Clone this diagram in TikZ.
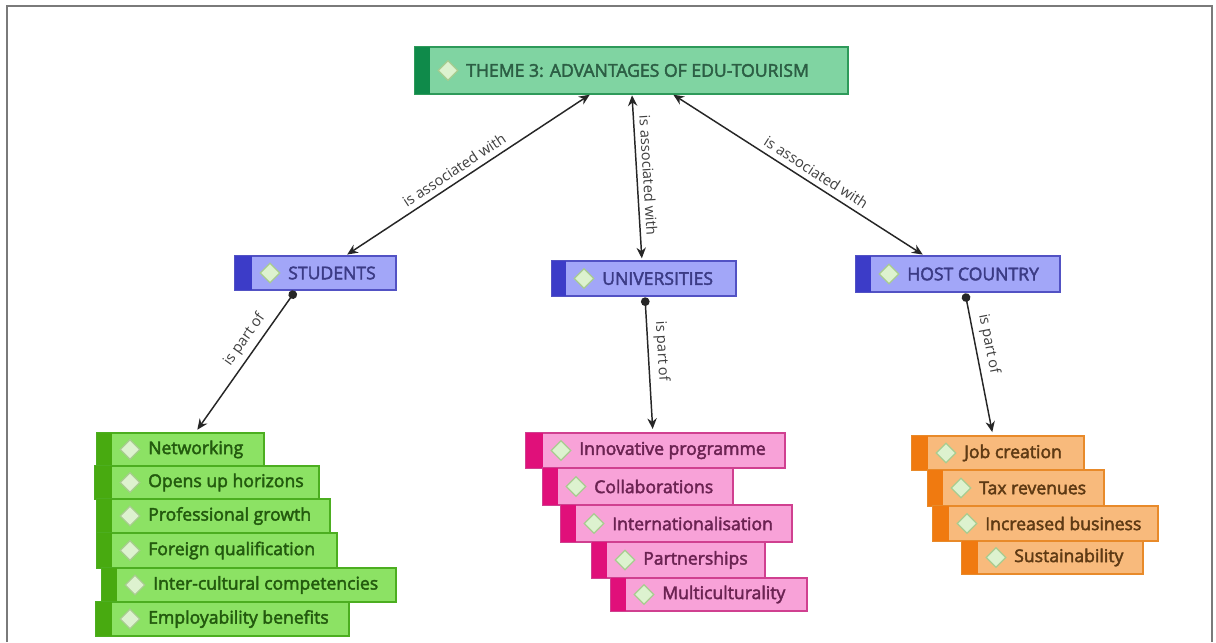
\documentclass[tikz,border=0pt]{standalone}
\usepackage{fontspec}
\setmainfont{Open Sans}
\newfontfamily\boxfont{Open Sans}[FakeBold=2.5]
\usetikzlibrary{arrows.meta,calc,shapes.geometric}

\definecolor{frameGray}{HTML}{7A7A7A}
\definecolor{thmFill}{HTML}{80D4A2}
\definecolor{thmLine}{HTML}{2E9A5A}
\definecolor{thmStrip}{HTML}{0F8A4A}
\definecolor{thmText}{HTML}{2C5E44}
\definecolor{catFill}{HTML}{A2A6F8}
\definecolor{catLine}{HTML}{5252C4}
\definecolor{catStrip}{HTML}{3C3CC8}
\definecolor{catText}{HTML}{3B3B85}
\definecolor{grnFill}{HTML}{8CE264}
\definecolor{grnLine}{HTML}{4CAE20}
\definecolor{grnStrip}{HTML}{48AA10}
\definecolor{grnText}{HTML}{235A0E}
\definecolor{pnkFill}{HTML}{F8A2D8}
\definecolor{pnkLine}{HTML}{D04090}
\definecolor{pnkStrip}{HTML}{E0107A}
\definecolor{pnkText}{HTML}{6B2352}
\definecolor{orgFill}{HTML}{F8BA7C}
\definecolor{orgLine}{HTML}{E88A2A}
\definecolor{orgStrip}{HTML}{F07A10}
\definecolor{orgText}{HTML}{5E3A14}
\definecolor{dmFill}{HTML}{DDF2CF}
\definecolor{dmLine}{HTML}{A8CC90}

\tikzset{
  itembox/.style={draw, line width=1.2pt, inner sep=0pt, outer sep=0pt},
  boxtext/.style={font=\boxfont\fontsize{13.2}{15}\selectfont, inner sep=0pt},
  thm/.style={itembox, fill=thmFill, draw=thmLine},
  thm strip/.style={fill=thmStrip},
  thm text/.style={boxtext, text=thmText},
  cat/.style={itembox, fill=catFill, draw=catLine},
  cat strip/.style={fill=catStrip},
  cat text/.style={boxtext, text=catText},
  grn/.style={itembox, fill=grnFill, draw=grnLine},
  grn strip/.style={fill=grnStrip},
  grn text/.style={boxtext, text=grnText},
  pnk/.style={itembox, fill=pnkFill, draw=pnkLine},
  pnk strip/.style={fill=pnkStrip},
  pnk text/.style={boxtext, text=pnkText},
  org/.style={itembox, fill=orgFill, draw=orgLine},
  org strip/.style={fill=orgStrip},
  org text/.style={boxtext, text=orgText},
  bullet/.style={diamond, draw=dmLine, fill=dmFill, line width=1pt,
    inner sep=0pt, minimum width=15pt, minimum height=15pt},
  assoc/.style={draw=black!85, line width=1.1pt, {Stealth[length=8pt,width=7pt]}-{Stealth[length=8pt,width=7pt]},
    shorten <=1pt, shorten >=2pt},
  partof/.style={draw=black!85, line width=1.1pt, {Circle[length=6.5pt]}-{Stealth[length=8pt,width=7pt]},
    shorten <=1pt, shorten >=3pt},
  lbl/.style={font=\fontsize{11}{13}\selectfont, text=black!75, inner sep=4pt, sloped, above},
}

% name, style, left, top, width, height, strip width, text  (all in px)
\newcommand\mapentry[8]{%
  \node[#2, anchor=north west, minimum width=#5*0.75pt, minimum height=#6*0.75pt] (#1) at (#3,#4) {};
  \fill[#2 strip] (#1.north west) rectangle ($(#1.south west)+(#7,0)$);
  \node[bullet] (#1-d) at ($(#1.west)+(#7+18,0)$) {};
  \node[#2 text, anchor=west] (#1-t) at ($(#1.west)+(#7+36,0)$) {#8};
}

\begin{document}
\begin{tikzpicture}[x=0.75pt, y=-0.75pt]
  \useasboundingbox[fill=white] (0,0) rectangle (1216,642);
  % outer frame
  \draw[frameGray, line width=2pt] (7,642) -- (7,6) -- (1212,6) -- (1212,642);

  % theme and categories
  \mapentry{theme}{thm}{415}{47}{433}{47}{15}{THEME 3: ADVANTAGES OF EDU-TOURISM}
  \mapentry{stu}{cat}{235}{256}{161}{34}{17}{STUDENTS}
  \mapentry{uni}{cat}{552}{261}{184}{35}{14}{UNIVERSITIES}
  \mapentry{host}{cat}{856}{256}{204}{36}{15}{HOST COUNTRY}

  % students
  \mapentry{g1}{grn}{97}{433}{167}{33}{15}{Networking}
  \mapentry{g2}{grn}{95}{466}{224}{33}{17}{Opens up horizons}
  \mapentry{g3}{grn}{97}{499}{233}{34}{15}{Professional growth}
  \mapentry{g4}{grn}{97}{533}{240}{35}{15}{Foreign qualification}
  \mapentry{g5}{grn}{102}{568}{294}{34}{15}{Inter-cultural competencies}
  \mapentry{g6}{grn}{96}{602}{253}{34}{16}{Employability benefits}

  % universities
  \mapentry{p1}{pnk}{526}{433}{259}{35}{17}{Innovative programme}
  \mapentry{p2}{pnk}{543}{468}{190}{37}{15}{Collaborations}
  \mapentry{p3}{pnk}{561}{505}{231}{37}{15}{Internationalisation}
  \mapentry{p4}{pnk}{592}{542}{173}{36}{15}{Partnerships}
  \mapentry{p5}{pnk}{611}{578}{196}{33}{15}{Multiculturality}

  % host country
  \mapentry{o1}{org}{912}{436}{172}{34}{16}{Job creation}
  \mapentry{o2}{org}{928}{470}{176}{36}{15}{Tax revenues}
  \mapentry{o3}{org}{933}{506}{225}{35}{16}{Increased business}
  \mapentry{o4}{org}{962}{541}{181}{33}{16}{Sustainability}

  % theme links
  \draw[assoc] ($(theme.south west)!0.406!(theme.south east)$)
    -- node[lbl, pos=0.53] (l1) {is associated with}
    ($(stu.north west)!0.683!(stu.north east)$);
  \draw[assoc] ($(theme.south west)!0.501!(theme.south east)$)
    -- node[lbl, pos=0.49] (l2) {is associated with}
    ($(uni.north west)!0.489!(uni.north east)$);
  \draw[assoc] ($(theme.south west)!0.594!(theme.south east)$)
    -- node[lbl, pos=0.545] (l3) {is associated with}
    ($(host.north west)!0.338!(host.north east)$);

  % category links
  \draw[partof] ($(stu.south west)!0.379!(stu.south east)$)
    -- node[lbl, pos=0.4] (l4) {is part of}
    ($(g1.north west)!0.587!(g1.north east)$);
  \draw[partof] ($(uni.south west)!0.505!(uni.south east)$)
    -- node[lbl, pos=0.41] (l5) {is part of}
    ($(p1.north west)!0.49!(p1.north east)$);
  \draw[partof] ($(host.south west)!0.534!(host.south east)$)
    -- node[lbl, pos=0.38] (l6) {is part of}
    ($(o1.north west)!0.471!(o1.north east)$);
\end{tikzpicture}
\end{document}
